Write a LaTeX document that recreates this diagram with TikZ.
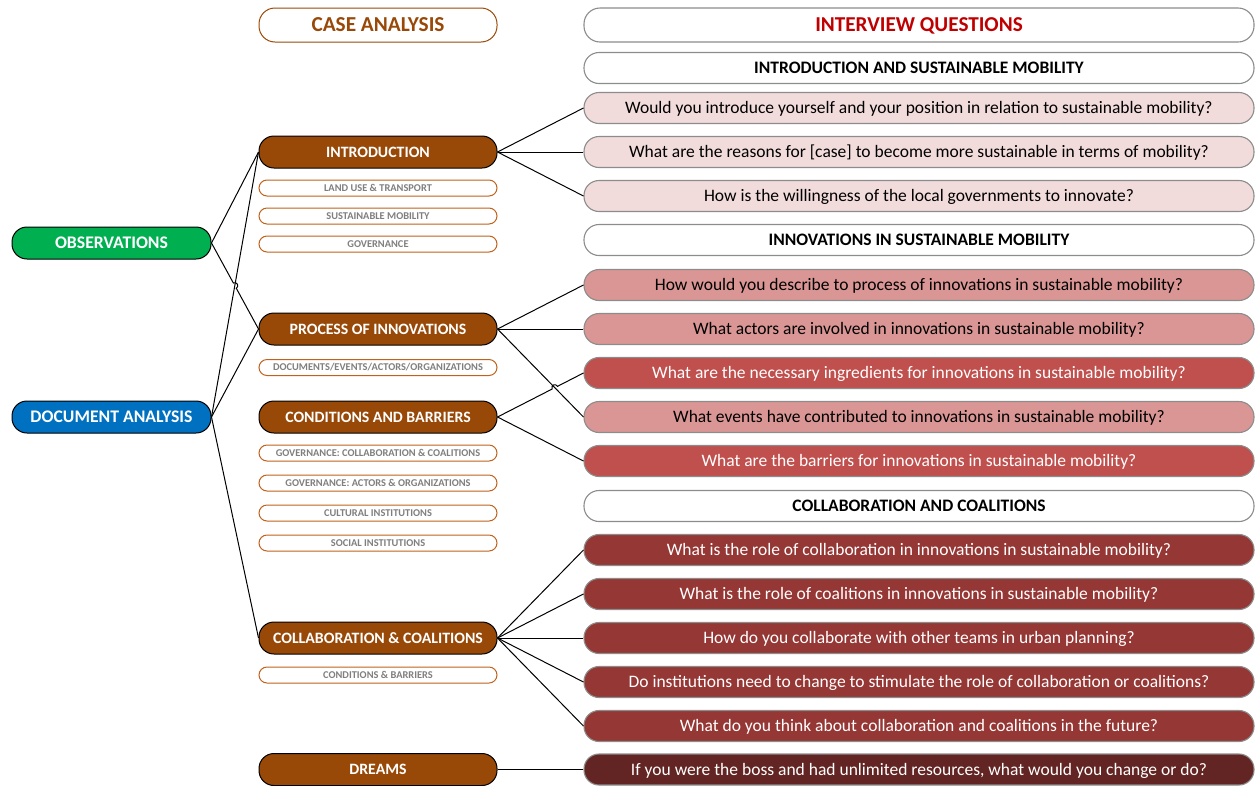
\documentclass[tikz,border=0pt]{standalone}
\usepackage{fontspec}
\setmainfont{Carlito}
\usetikzlibrary{calc}

\definecolor{casebrown}{HTML}{984807}
\definecolor{thinbrown}{HTML}{C0621B}
\definecolor{obsgreen}{HTML}{00B050}
\definecolor{docblue}{HTML}{0070C0}
\definecolor{titlered}{HTML}{C00000}
\definecolor{qborder}{HTML}{8C8C8C}
\definecolor{qpale}{HTML}{F2DCDB}
\definecolor{qrose}{HTML}{DA9694}
\definecolor{qred}{HTML}{C0504D}
\definecolor{qdark}{HTML}{953735}
\definecolor{qdeep}{HTML}{632523}
\definecolor{subgray}{HTML}{7F7F7F}

\tikzset{
  qbox/.style={draw=qborder, line width=1.1pt, rounded corners=15pt,
    minimum width=670pt, minimum height=31pt, inner sep=0pt,
    text height=11.3pt, text depth=0pt,
    font=\fontsize{17.5}{19}\selectfont},
  qhead/.style={qbox, fill=white, font=\bfseries\fontsize{17.5}{19}\selectfont},
  qpaleq/.style={qbox, fill=qpale, text=black},
  qroseq/.style={qbox, fill=qrose, text=black},
  qredq/.style={qbox, fill=qred, text=white},
  qdarkq/.style={qbox, fill=qdark, text=white},
  qdeepq/.style={qbox, fill=qdeep, text=white},
  topic/.style={draw=black, fill=casebrown, line width=1pt, rounded corners=15pt,
    minimum width=238pt, minimum height=32pt, inner sep=0pt, text=white,
    text height=10.2pt, text depth=0pt,
    font=\bfseries\fontsize{15.8}{17}\selectfont},
  subtopic/.style={draw=thinbrown, fill=white, line width=1pt, rounded corners=8pt,
    minimum width=238pt, minimum height=16pt, inner sep=0pt, text=subgray,
    text height=6.7pt, text depth=0pt,
    font=\bfseries\fontsize{10.4}{12}\selectfont},
  source/.style={draw=black, line width=1pt, rounded corners=15pt,
    minimum width=199pt, minimum height=32pt, inner sep=0pt, text=white,
    text height=11.4pt, text depth=0pt,
    font=\bfseries\fontsize{17.7}{19}\selectfont},
  conn/.style={draw=black, line width=1pt},
}

\begin{document}
\begin{tikzpicture}[x=1pt, y=-1pt]
\useasboundingbox (0,0) rectangle (1255,785);

% column headings
\node[draw=casebrown, line width=1pt, rounded corners=16pt, minimum width=238pt,
  minimum height=34pt, inner sep=0pt, text=casebrown,
  text height=13.7pt, text depth=0pt,
  font=\bfseries\fontsize{21.3}{23}\selectfont] (case) at (378,25) {CASE ANALYSIS};
\node[qbox, minimum height=34pt, rounded corners=16pt, fill=white, text=titlered,
  text height=13.7pt,
  font=\bfseries\fontsize{21.2}{23}\selectfont] (iq) at (919,25) {INTERVIEW QUESTIONS};

% data sources
\node[source, fill=obsgreen] (obs) at (111.5,243) {OBSERVATIONS};
\node[source, fill=docblue] (doc) at (111.5,417) {DOCUMENT ANALYSIS};

% case analysis topics
\node[topic] (intro) at (378,152) {INTRODUCTION};
\node[subtopic] (s1) at (378,188) {LAND USE \& TRANSPORT};
\node[subtopic] (s2) at (378,216) {SUSTAINABLE MOBILITY};
\node[subtopic] (s3) at (378,244) {GOVERNANCE};
\node[topic] (proc) at (378,329) {PROCESS OF INNOVATIONS};
\node[subtopic] (s4) at (378,367.5) {DOCUMENTS/EVENTS/ACTORS/ORGANIZATIONS};
\node[topic] (cond) at (378,417) {CONDITIONS AND BARRIERS};
\node[subtopic] (s5) at (378,453) {GOVERNANCE: COLLABORATION \& COALITIONS};
\node[subtopic] (s6) at (378,483) {GOVERNANCE: ACTORS \& ORGANIZATIONS};
\node[subtopic] (s7) at (378,513) {CULTURAL INSTITUTIONS};
\node[subtopic] (s8) at (378,543) {SOCIAL INSTITUTIONS};
\node[topic] (collab) at (378,638) {COLLABORATION \& COALITIONS};
\node[subtopic] (s9) at (378,675) {CONDITIONS \& BARRIERS};
\node[topic] (dreams) at (378,769.5) {DREAMS};

% interview questions
\node[qhead] (h1) at (919,68) {INTRODUCTION AND SUSTAINABLE MOBILITY};
\node[qpaleq] (q1) at (919,108) {Would you introduce yourself and your position in relation to sustainable mobility?};
\node[qpaleq] (q2) at (919,152) {What are the reasons for [case] to become more sustainable in terms of mobility?};
\node[qpaleq] (q3) at (919,196) {How is the willingness of the local governments to innovate?};
\node[qhead] (h2) at (919,240) {INNOVATIONS IN SUSTAINABLE MOBILITY};
\node[qroseq] (q4) at (919,285) {How would you describe to process of innovations in sustainable mobility?};
\node[qroseq] (q5) at (919,329) {What actors are involved in innovations in sustainable mobility?};
\node[qredq] (q6) at (919,373) {What are the necessary ingredients for innovations in sustainable mobility?};
\node[qroseq] (q7) at (919,417) {What events have contributed to innovations in sustainable mobility?};
\node[qredq] (q8) at (919,461) {What are the barriers for innovations in sustainable mobility?};
\node[qhead] (h3) at (919,506) {COLLABORATION AND COALITIONS};
\node[qdarkq] (q9) at (919,550) {What is the role of collaboration in innovations in sustainable mobility?};
\node[qdarkq] (q10) at (919,594) {What is the role of coalitions in innovations in sustainable mobility?};
\node[qdarkq] (q11) at (919,638) {How do you collaborate with other teams in urban planning?};
\node[qdarkq] (q12) at (919,682) {Do institutions need to change to stimulate the role of collaboration or coalitions?};
\node[qdarkq] (q13) at (919,726) {What do you think about collaboration and coalitions in the future?};
\node[qdeepq] (q14) at (919,769.5) {If you were the boss and had unlimited resources, what would you change or do?};

% sources to topics
\draw[conn] (obs.east) -- (intro.west);
\draw[conn] (obs.east) -- ($(obs.east)!0.4652!(proc.west)$)
  arc[start angle=119.2, end angle=-60.8, radius=3pt] -- (proc.west);
\draw[conn] (doc.east) -- (intro.west);
\draw[conn] (doc.east) -- (proc.west);
\draw[conn] (doc.east) -- (collab.west);

% topics to questions
\foreach \q in {q1,q2,q3} \draw[conn] (intro.east) -- (\q.west);
\foreach \q in {q4,q5,q7} \draw[conn] (proc.east) -- (\q.west);
\draw[conn] (cond.east) -- ($(cond.east)!0.6359!(q6.west)$)
  arc[start angle=206.83, end angle=26.83, radius=3pt] -- (q6.west);
\draw[conn] (cond.east) -- (q8.west);
\foreach \q in {q9,q10,q11,q12,q13} \draw[conn] (collab.east) -- (\q.west);
\draw[conn] (dreams.east) -- (q14.west);
\end{tikzpicture}
\end{document}
